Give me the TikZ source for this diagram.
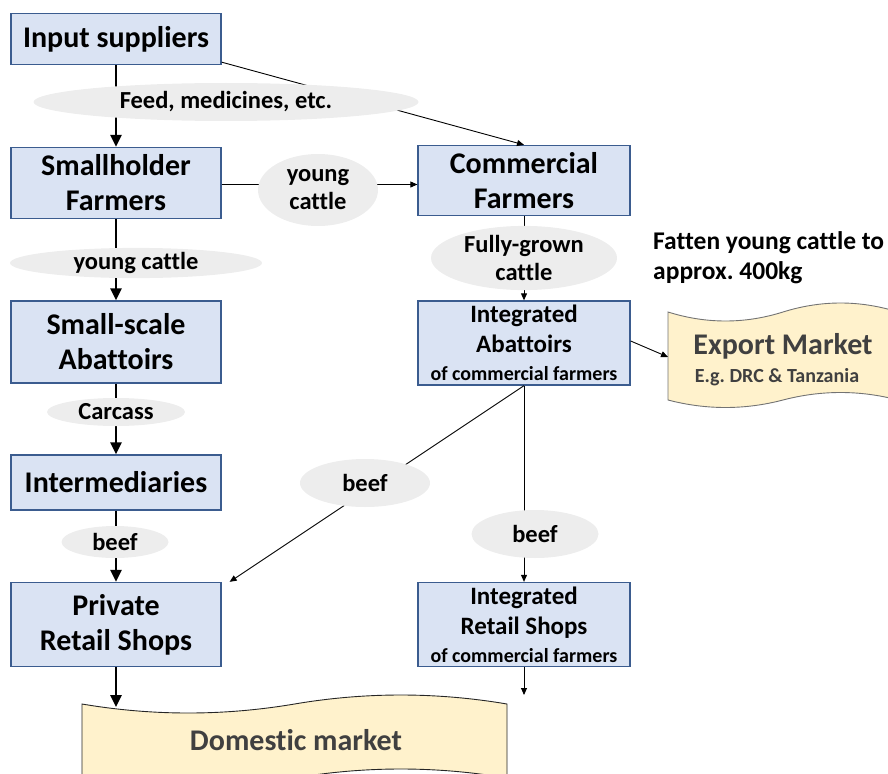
\documentclass[tikz,border=0pt]{standalone}
\usepackage{fontspec}
\setmainfont{Carlito}[Ligatures=NoCommon]
\usetikzlibrary{arrows.meta,shapes.geometric,calc}
\frenchspacing
\definecolor{boxfill}{HTML}{DAE3F3}
\definecolor{boxline}{HTML}{3B5C8F}
\definecolor{flowfill}{HTML}{EDEDED}
\definecolor{marketfill}{HTML}{FFF2CC}
\definecolor{markettext}{HTML}{404040}
\tikzset{
  stage/.style={draw=boxline, line width=1.3pt, fill=boxfill, align=center,
    font=\bfseries\fontsize{30}{35}\selectfont, inner sep=0pt},
  istage/.style={stage, font=\bfseries\fontsize{25}{30}\selectfont},
  flow/.style={ellipse, fill=flowfill, inner sep=0pt, align=center,
    font=\bfseries\fontsize{24.5}{28}\selectfont},
  bigflow/.style={-{Triangle[length=12pt,width=11pt]}, line width=2.7pt},
  smallflow/.style={-{Triangle[length=7pt,width=6pt]}, line width=0.9pt},
  market/.style={fill=marketfill, line width=0.9pt},
}
\newcommand{\subline}[1]{\\[-2pt]{\fontsize{20}{24}\selectfont #1}}
\begin{document}
\begin{tikzpicture}[x=1pt,y=-1pt]
\useasboundingbox (0,0) rectangle (888,773);
\begin{scope}
\clip (0,0) rectangle (888,773);

% market banners
\draw[market, draw=black!85]
  (82,704) .. controls (152.8,716) and (223.7,716) .. (294.5,704)
  .. controls (365.3,692) and (436.2,692) .. (507,704)
  -- (507,778) .. controls (436.2,766) and (365.3,766) .. (294.5,778)
  .. controls (223.7,790) and (152.8,790) .. (82,778) -- cycle;
\draw[market, draw=black!55]
  (668,312) .. controls (706.3,324) and (744.7,324) .. (783,312)
  .. controls (821.3,300) and (859.7,300) .. (898,312)
  -- (898,400) .. controls (859.7,390) and (821.3,390) .. (783,400)
  .. controls (744.7,410) and (706.3,410) .. (668,400) -- cycle;

% value-chain stages
\node[stage, minimum width=210pt, minimum height=51pt] (inp) at (116,39) {Input suppliers};
\node[stage, minimum width=210pt, minimum height=71pt] (sh) at (116,183) {Smallholder\\Farmers};
\node[stage, minimum width=210pt, minimum height=82pt] (ssa) at (116,342) {Small-scale\\Abattoirs};
\node[stage, minimum width=210pt, minimum height=55pt] (im) at (116,482.5) {Intermediaries};
\node[stage, minimum width=210pt, minimum height=84pt] (pr) at (116,624.5) {Private\\Retail Shops};
\node[stage, minimum width=212pt, minimum height=70pt] (com) at (524,180.5) {Commercial\\Farmers};
\node[istage, minimum width=212pt, minimum height=84pt] (abt) at (524,343) {Integrated\\Abattoirs\subline{of commercial farmers}};
\node[istage, minimum width=212pt, minimum height=84pt] (irs) at (524,624.5) {Integrated\\Retail Shops\subline{of commercial farmers}};

% market labels and arrow ends
\node[font=\bfseries\fontsize{30}{34}\selectfont, text=markettext] (dom) at (296,740) {Domestic market};
\node[font=\bfseries\fontsize{30}{34}\selectfont, text=markettext] (exp) at (783,346) {Export Market};
\node[font=\bfseries\fontsize{20}{24}\selectfont, text=markettext] (expsub) at (777,377) {E.g. DRC \& Tanzania};
\coordinate (domin) at (116,707);
\coordinate (expin) at (668,357);
\coordinate (irsout) at (524,695);

% connectors
\draw[bigflow] (inp) -- (sh);
\draw[bigflow] (sh) -- (ssa);
\draw[bigflow] (ssa) -- (im);
\draw[bigflow] (im) -- (pr);
\draw[bigflow] (pr) -- (domin);
\draw[smallflow] ([yshift=3pt]inp.south east) -- (com.north);
\draw[smallflow] ([yshift=-1.5pt]sh.east) -- ([yshift=-1.5pt]sh.east -| com.west);
\draw[smallflow] (com) -- (abt);
\draw[smallflow] ([yshift=2pt]abt.east) -- (expin);
\draw[smallflow] (abt.south) -- ([xshift=8pt]pr.north east);
\draw[smallflow] (abt) -- (irs);
\draw[smallflow] (irs) -- (irsout);

% flow labels
\node[flow, minimum width=385pt, minimum height=38pt] (feed) at (226,102) {Feed, medicines, etc.};
\node[flow, minimum width=120pt, minimum height=72pt] (yc1) at (318,190) {young\\cattle};
\node[flow, minimum width=252pt, minimum height=28pt] (yc2) at (136,263) {young cattle};
\node[flow, minimum width=138pt, minimum height=28pt] (carc) at (116,412) {Carcass};
\node[flow, minimum width=107pt, minimum height=32pt] (beef1) at (115,542) {beef};
\node[flow, minimum width=130pt, minimum height=48pt] (beef2) at (365,483) {beef};
\node[flow, minimum width=186pt, minimum height=54pt] (fg) at (524,258) {Fully-grown\\cattle};
\node[flow, minimum width=127pt, minimum height=48pt] (beef3) at (535,534) {beef};

% note on commercial fattening
\node[font=\bfseries\fontsize{25.5}{30}\selectfont, align=left, anchor=west, inner sep=0pt] (note) at (653,258) {Fatten young cattle to\\approx. 400kg};
\end{scope}
\end{tikzpicture}
\end{document}
